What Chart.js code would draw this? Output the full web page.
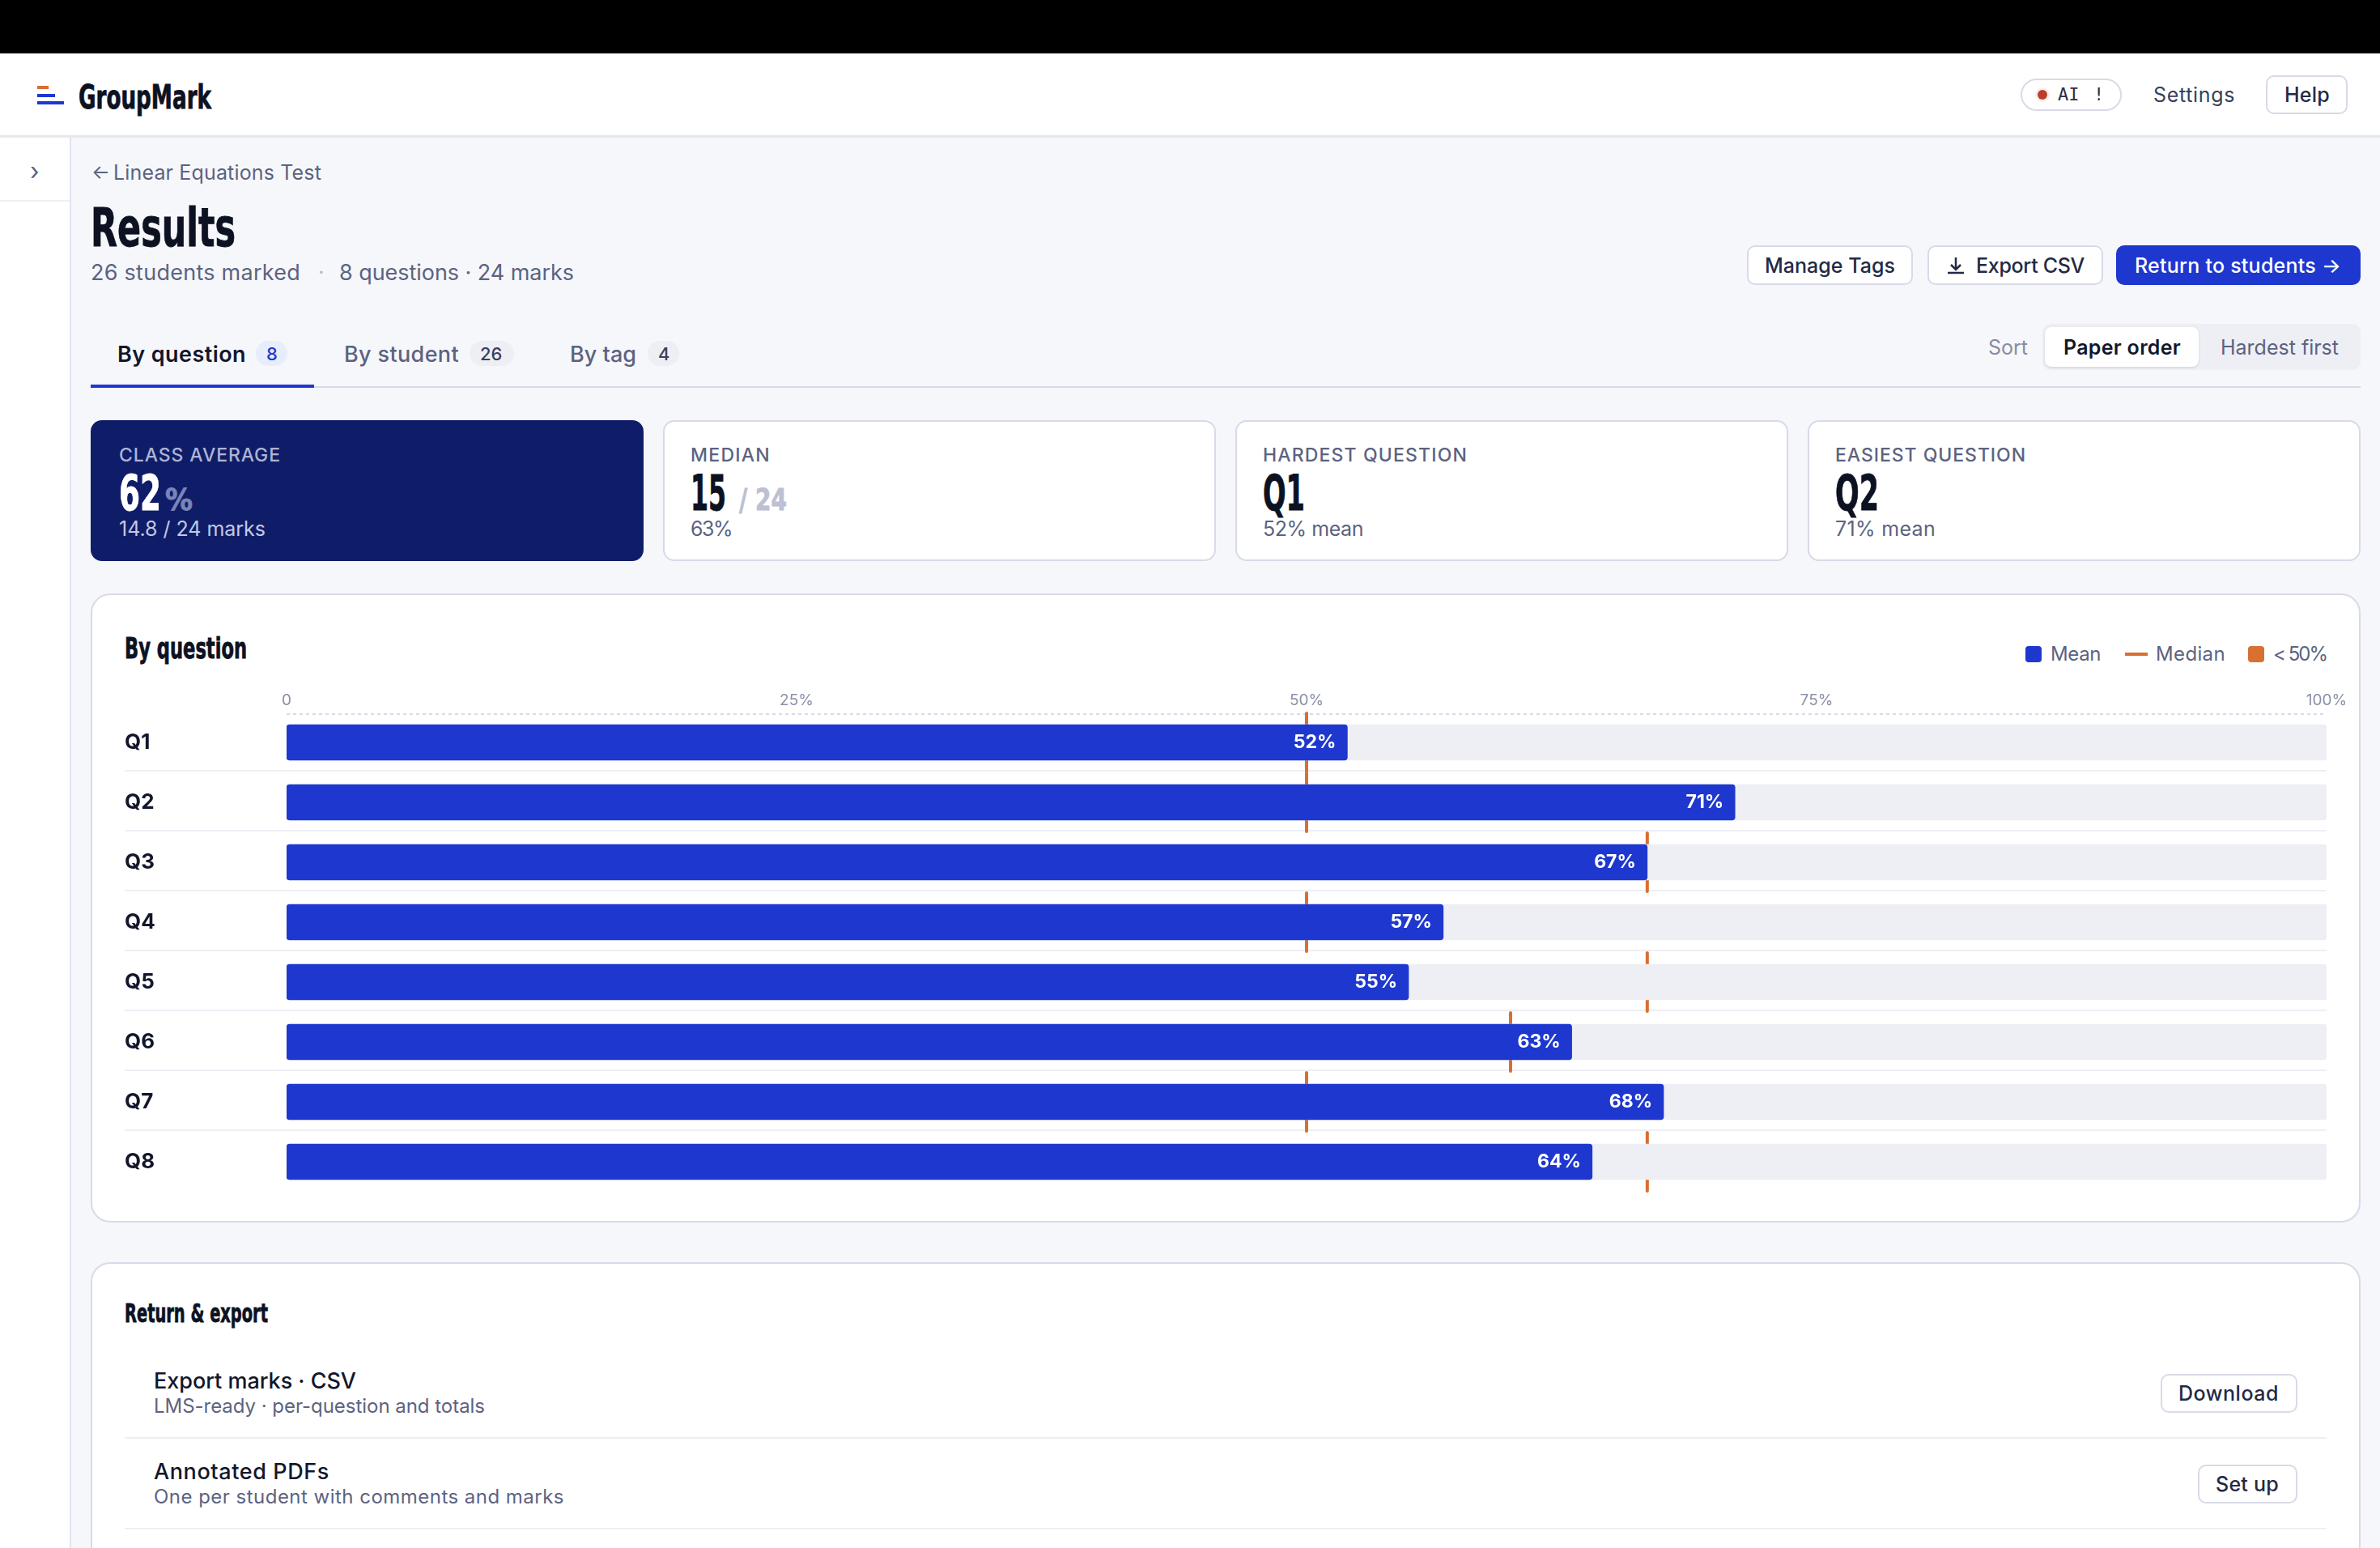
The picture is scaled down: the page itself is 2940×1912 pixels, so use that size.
<!DOCTYPE html>
<html lang="en">
<head>
<meta charset="utf-8">
<title>GroupMark Results</title>
<script src="https://cdn.jsdelivr.net/npm/chart.js@4"></script>
<style>
html, body { margin: 0; padding: 0; }
body { position: relative; width: 2940px; height: 1912px; overflow: hidden; background: #f6f7fb; font-family: Inter, "Noto Sans", sans-serif; color: #12172b; }
.box { position: absolute; box-sizing: border-box; }
.t { position: absolute; white-space: nowrap; transform: translateY(-50%); line-height: 1; }
.hd { font-family: "DejaVu Sans Condensed", sans-serif; font-weight: 700; color: #0d1222; transform-origin: left center; -webkit-text-stroke: 0.8px currentColor; }
.mut { color: #5c6380; }
.btn { background: #fff; border: 2px solid #d8dae8; border-radius: 10px; }
.card { background: #fff; border: 2px solid #d8dae8; border-radius: 14px; }
.lab { font-size: 23px; font-weight: 500; color: #5c6380; }
.btx { font-size: 25px; font-weight: 500; color: #232a45; }
.row { font-size: 27px; font-weight: 500; }
.sub2 { font-size: 24px; color: #5c6380; }
#chartCanvas { position: absolute; left: 120px; top: 840px; }
</style>
</head>
<body>
<!-- page frame -->
<div class="box" style="left:0;top:0;width:2940px;height:66px;background:#000"></div>
<div class="box" style="left:0;top:66px;width:2940px;height:104px;background:#fff;border-bottom:3px solid #e6e8f0"></div>
<div class="box" style="left:0;top:170px;width:88px;height:1742px;background:#fff;border-right:2px solid #e2e4ee"></div>
<div class="box" style="left:0;top:247px;width:86px;height:2px;background:#eef0f5"></div>
<span class="t mut" style="left:37px;top:211px;font-size:30px">›</span>

<!-- top bar -->
<div class="box" style="left:46px;top:106px;width:14px;height:4px;background:#d96f30"></div>
<div class="box" style="left:46px;top:116px;width:22px;height:4px;background:#1e38cf"></div>
<div class="box" style="left:46px;top:125px;width:33px;height:4px;background:#1e38cf"></div>
<span class="t hd" style="left:97px;top:120px;font-size:40px" data-w="164">GroupMark</span>

<div class="box" style="left:2496px;top:97px;width:125px;height:40px;background:#fff;border:2px solid #d8dae8;border-radius:20px"></div>
<div class="box" style="left:2514px;top:108px;width:18px;height:18px;border-radius:9px;background:#fbeeec"></div>
<div class="box" style="left:2517px;top:111px;width:12px;height:12px;border-radius:6px;background:#b8402a"></div>
<span class="t" style="left:2542px;top:117px;font-family:'DejaVu Sans Mono',monospace;font-size:22px;color:#2a3048">AI</span>
<span class="t" style="left:2586px;top:117px;font-family:'DejaVu Sans Mono',monospace;font-size:22px;color:#2a3048">!</span>
<span class="t btx" style="left:2660px;top:117px;color:#3a405a;font-weight:400" data-w="101">Settings</span>
<div class="box btn" style="left:2799px;top:93px;width:101px;height:48px"></div>
<span class="t btx" style="left:2822px;top:117px" data-w="56">Help</span>

<!-- heading -->
<span class="t mut" style="left:113px;top:213px;font-size:24px">←</span>
<span class="t mut" style="left:140px;top:213px;font-size:25px" data-w="257">Linear Equations Test</span>
<span class="t hd" style="left:112px;top:282px;font-size:66px" data-w="179">Results</span>
<span class="t mut" style="left:112px;top:336px;font-size:27px" data-w="259">26 students marked</span>
<span class="t" style="left:393px;top:336px;font-size:26px;color:#b5b9cc">·</span>
<span class="t mut" style="left:419px;top:336px;font-size:27px" data-w="290">8 questions · 24 marks</span>

<div class="box btn" style="left:2158px;top:303px;width:205px;height:49px"></div>
<span class="t btx" style="left:2180px;top:328px" data-w="161">Manage Tags</span>
<div class="box btn" style="left:2381px;top:303px;width:217px;height:49px"></div>
<svg class="box" style="left:2404px;top:317px" width="24" height="22" viewBox="0 0 24 22"><path d="M12 1v14M6 10l6 6 6-6M2 20h20" fill="none" stroke="#232a45" stroke-width="2.5"/></svg>
<span class="t btx" style="left:2441px;top:328px" data-w="134">Export CSV</span>
<div class="box" style="left:2614px;top:303px;width:302px;height:49px;background:#1e38cf;border-radius:10px"></div>
<span class="t btx" style="left:2637px;top:328px;color:#fff" data-w="255">Return to students →</span>

<!-- tabs -->
<div class="box" style="left:112px;top:477px;width:2804px;height:2px;background:#d8dae8"></div>
<div class="box" style="left:112px;top:475px;width:276px;height:4px;background:#1e38cf"></div>
<span class="t" style="left:145px;top:437px;font-size:27px;font-weight:600" data-w="159">By question</span>
<div class="box" style="left:316px;top:421px;width:39px;height:31px;border-radius:16px;background:#e8edfc"></div>
<span class="t" style="left:329px;top:437px;font-size:22px;font-weight:500;color:#1e38cf">8</span>
<span class="t mut" style="left:425px;top:437px;font-size:27px;font-weight:500" data-w="142">By student</span>
<div class="box" style="left:580px;top:421px;width:55px;height:31px;border-radius:16px;background:#eeeff5"></div>
<span class="t mut" style="left:593px;top:437px;font-size:22px;font-weight:500;color:#3a405a">26</span>
<span class="t mut" style="left:704px;top:437px;font-size:27px;font-weight:500" data-w="82">By tag</span>
<div class="box" style="left:800px;top:421px;width:39px;height:31px;border-radius:16px;background:#eeeff5"></div>
<span class="t" style="left:813px;top:437px;font-size:22px;font-weight:500;color:#3a405a">4</span>

<span class="t" style="left:2456px;top:429px;font-size:25px;color:#868ca4" data-w="49">Sort</span>
<div class="box" style="left:2523px;top:400px;width:393px;height:57px;background:#eeeff5;border-radius:10px"></div>
<div class="box" style="left:2526px;top:404px;width:190px;height:49px;background:#fff;border-radius:8px;box-shadow:0 1px 3px rgba(20,25,60,.15)"></div>
<span class="t" style="left:2549px;top:429px;font-size:25px;font-weight:600" data-w="145">Paper order</span>
<span class="t mut" style="left:2743px;top:429px;font-size:25px" data-w="146">Hardest first</span>

<!-- summary cards -->
<div class="box" style="left:112px;top:519px;width:683px;height:174px;background:#0f1d69;border-radius:14px"></div>
<span class="t lab" style="left:147px;top:562px;color:#aeb4d4" data-w="200">CLASS AVERAGE</span>
<span class="t hd" style="left:147px;top:609px;font-size:60px;color:#fff" data-w="52">62</span>
<span class="t hd" style="left:204px;top:617px;font-size:38px;color:#7a84b8" data-w="34">%</span>
<span class="t" style="left:147px;top:653px;font-size:25px;color:#c3c8e2" data-w="181">14.8 / 24 marks</span>

<div class="box card" style="left:819px;top:519px;width:683px;height:174px"></div>
<span class="t lab" style="left:853px;top:562px" data-w="99">MEDIAN</span>
<span class="t hd" style="left:853px;top:609px;font-size:60px" data-w="44">15</span>
<span class="t hd" style="left:913px;top:617px;font-size:38px;color:#bcc0d2" data-w="59">/ 24</span>
<span class="t mut" style="left:853px;top:653px;font-size:25px" data-w="51">63%</span>

<div class="box card" style="left:1526px;top:519px;width:683px;height:174px"></div>
<span class="t lab" style="left:1560px;top:562px" data-w="253">HARDEST QUESTION</span>
<span class="t hd" style="left:1560px;top:609px;font-size:60px" data-w="52">Q1</span>
<span class="t mut" style="left:1560px;top:653px;font-size:25px" data-w="124">52% mean</span>

<div class="box card" style="left:2233px;top:519px;width:683px;height:174px"></div>
<span class="t lab" style="left:2267px;top:562px" data-w="236">EASIEST QUESTION</span>
<span class="t hd" style="left:2267px;top:609px;font-size:60px" data-w="54">Q2</span>
<span class="t mut" style="left:2267px;top:653px;font-size:25px" data-w="124">71% mean</span>

<!-- chart card -->
<div class="box card" style="left:112px;top:733px;width:2804px;height:777px;border-radius:24px"></div>
<span class="t hd" style="left:154px;top:801px;font-size:36px" data-w="151">By question</span>
<div class="box" style="left:2502px;top:798px;width:20px;height:20px;border-radius:4px;background:#1e38cf"></div>
<span class="t mut" style="left:2533px;top:808px;font-size:24px" data-w="62">Mean</span>
<div class="box" style="left:2625px;top:806px;width:28px;height:4px;background:#d96f30"></div>
<span class="t mut" style="left:2663px;top:808px;font-size:24px" data-w="86">Median</span>
<div class="box" style="left:2777px;top:798px;width:20px;height:20px;border-radius:4px;background:#d96f30"></div>
<span class="t mut" style="left:2808px;top:808px;font-size:24px" data-w="66">&lt; 50%</span>
<canvas id="chartCanvas" width="2794" height="672"></canvas>

<!-- return and export -->
<div class="box card" style="left:112px;top:1559px;width:2804px;height:420px;border-radius:24px"></div>
<span class="t hd" style="left:154px;top:1622px;font-size:32px" data-w="177">Return &amp; export</span>
<span class="t row" style="left:190px;top:1705px" data-w="250">Export marks · CSV</span>
<span class="t sub2" style="left:190px;top:1737px" data-w="409">LMS-ready · per-question and totals</span>
<div class="box" style="left:154px;top:1775px;width:2720px;height:2px;background:#eeeff5"></div>
<div class="box btn" style="left:2669px;top:1697px;width:169px;height:48px"></div>
<span class="t btx" style="left:2691px;top:1721px" data-w="124">Download</span>
<span class="t row" style="left:190px;top:1817px" data-w="217">Annotated PDFs</span>
<span class="t sub2" style="left:190px;top:1849px" data-w="507">One per student with comments and marks</span>
<div class="box" style="left:154px;top:1887px;width:2720px;height:2px;background:#eeeff5"></div>
<div class="box btn" style="left:2715px;top:1809px;width:123px;height:48px"></div>
<span class="t btx" style="left:2737px;top:1833px" data-w="78">Set up</span>

<script>
// data
const questions = ['Q1', 'Q2', 'Q3', 'Q4', 'Q5', 'Q6', 'Q7', 'Q8'];
const meanPct = [52, 71, 66.7, 56.7, 55, 63, 67.5, 64];
const medianPct = [50, 50, 66.7, 50, 66.7, 60, 50, 66.7];
const trackPct = [100, 100, 100, 100, 100, 100, 100, 100];
const tickValues = [0, 25, 50, 75, 100];
const tickLabels = ['0', '25%', '50%', '75%', '100%'];

// squeeze or spread the substitute fonts to the measured text widths
document.querySelectorAll('[data-w]').forEach(el => {
    const want = +el.dataset.w;
    const have = el.getBoundingClientRect().width;
    if (el.classList.contains('hd')) {
        el.style.transform = 'translateY(-50%) scaleX(' + (want / have) + ')';
    } else {
        el.style.letterSpacing = ((want - have) / el.textContent.length) + 'px';
    }
});

const chartExtras = {
    id: 'chartExtras',
    beforeDatasetsDraw(chart) {
        const { ctx, chartArea, scales } = chart;
        ctx.save();
        // dashed rule under the tick labels
        ctx.strokeStyle = '#d8dae8';
        ctx.lineWidth = 2;
        ctx.setLineDash([4, 4]);
        ctx.beginPath();
        ctx.moveTo(chartArea.left, chartArea.top + 2);
        ctx.lineTo(chartArea.right, chartArea.top + 2);
        ctx.stroke();
        // separators between rows
        ctx.setLineDash([]);
        ctx.strokeStyle = '#eeeff5';
        questions.slice(0, -1).forEach((q, i) => {
            const y = scales.y.getPixelForValue(i) + 35;
            ctx.beginPath();
            ctx.moveTo(34, y);
            ctx.lineTo(chartArea.right, y);
            ctx.stroke();
        });
        ctx.restore();
    },
    beforeDatasetDraw(chart) {
        chart.ctx.lineCap = 'round';
    },
    afterDatasetDraw(chart) {
        chart.ctx.lineCap = 'butt';
    },
    afterDatasetsDraw(chart) {
        // value labels inside the end of each mean bar
        const { ctx } = chart;
        ctx.save();
        ctx.fillStyle = '#fff';
        ctx.font = '700 23px Inter, sans-serif';
        ctx.textAlign = 'right';
        ctx.textBaseline = 'middle';
        chart.getDatasetMeta(0).data.forEach((bar, i) => {
            ctx.fillText(Math.round(meanPct[i]) + '%', bar.x - 14, bar.y);
        });
        ctx.restore();
    }
};

new Chart(document.getElementById('chartCanvas'), {
    data: {
        labels: questions,
        datasets: [
            { type: 'bar', label: 'Mean', data: meanPct, backgroundColor: '#1e38cf', grouped: false, barThickness: 44, borderRadius: 4, borderSkipped: false, order: 1 },
            { type: 'bar', label: 'Track', data: trackPct, backgroundColor: '#eeeff5', grouped: false, barThickness: 44, borderRadius: 4, borderSkipped: false, order: 2 },
            { type: 'line', label: 'Median', data: medianPct, showLine: false, clip: false, pointStyle: 'line', rotation: 90, pointRadius: 36, pointBorderWidth: 4, pointBorderColor: '#d96f30', pointBackgroundColor: '#d96f30', order: 3 }
        ]
    },
    options: {
        indexAxis: 'y',
        responsive: false,
        animation: false,
        devicePixelRatio: 1,
        layout: { padding: { left: 34, right: 36, top: 0, bottom: 19 } },
        plugins: { legend: { display: false }, tooltip: { enabled: false } },
        scales: {
            x: {
                type: 'linear',
                position: 'top',
                min: 0,
                max: 100,
                afterFit(s) { s.height = 39; s.paddingLeft = 0; s.paddingRight = 0; },
                afterBuildTicks(s) { s.ticks = tickValues.map(v => ({ value: v })); },
                grid: { display: false, drawTicks: false },
                border: { display: false },
                ticks: {
                    maxRotation: 0,
                    padding: 3,
                    color: '#8a90a8',
                    font: { family: 'Inter', size: 19 },
                    callback: v => tickLabels[tickValues.indexOf(v)]
                }
            },
            y: {
                afterFit(s) { s.width = 200; s.paddingTop = 0; s.paddingBottom = 0; },
                grid: { display: false, drawTicks: false },
                border: { display: false },
                ticks: {
                    crossAlign: 'far',
                    padding: 0,
                    color: '#12172b',
                    font: { family: 'Inter', size: 26, weight: '700' }
                }
            }
        }
    },
    plugins: [chartExtras]
});
</script>
</body>
</html>
